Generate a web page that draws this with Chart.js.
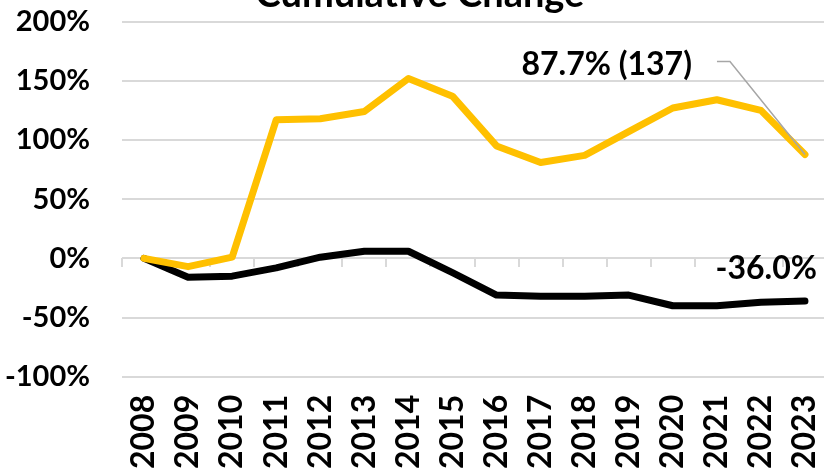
<!DOCTYPE html>
<html><head><meta charset="utf-8">
<script src="https://cdn.jsdelivr.net/npm/chart.js@4.4.1/dist/chart.umd.min.js"></script>
<style>
html,body{margin:0;padding:0;background:#fff;overflow:hidden}
#wrap{position:relative;width:824px;height:469px;overflow:hidden;background:#fff}
#box{position:absolute;left:0;top:-28px;width:840px;height:497px}
</style></head><body>
<div id="wrap"><div id="box"><canvas id="c"></canvas></div></div>
<script>
const chartTitle = 'Cumulative Change';
const years = ['2008','2009','2010','2011','2012','2013','2014','2015','2016','2017','2018','2019','2020','2021','2022','2023'];
const goldValues = [0,-7,1,117,118,124,152,137,95,81,87,107,127,134,125,87.7];
const blackValues = [0,-16,-15,-8,1,6,6,-12,-31,-32,-32,-31,-40,-40,-37,-36];
const yMin = -100, yMax = 200, yStep = 50;
const goldEndLabel = '87.7% (137)';
const blackEndLabel = '-36.0%';

const FONT = 'Lato';
const endLabels = {
  id: 'endLabels',
  afterDatasetsDraw(chart) {
    const ctx = chart.ctx;
    const g = chart.getDatasetMeta(0).data; const gp = g[g.length-1];
    const b = chart.getDatasetMeta(1).data; const bp = b[b.length-1];
    ctx.save();
    ctx.strokeStyle = '#A6A6A6'; ctx.lineWidth = 1.5;
    ctx.beginPath();
    ctx.moveTo(gp.x - 88, gp.y - 93);
    ctx.lineTo(gp.x - 75, gp.y - 93);
    ctx.lineTo(gp.x, gp.y);
    ctx.stroke();
    ctx.fillStyle = '#000';
    ctx.font = 'bold 32px ' + FONT;
    ctx.textBaseline = 'middle';
    ctx.textAlign = 'right';
    ctx.fillText(goldEndLabel, gp.x - 113, gp.y - 90);
    ctx.fillText(blackEndLabel, bp.x + 12, bp.y - 32);
    ctx.restore();
  }
};

new Chart(document.getElementById('c'), {
  type: 'line',
  data: {
    labels: years,
    datasets: [
      {data: goldValues, borderColor: '#FFC000', backgroundColor: '#FFC000', borderWidth: 7, pointRadius: 0, tension: 0, borderJoinStyle: 'round', borderCapStyle: 'round', xAxisID: 'x', yAxisID: 'y'},
      {data: blackValues, borderColor: '#000000', backgroundColor: '#000000', borderWidth: 7, pointRadius: 0, tension: 0, borderJoinStyle: 'round', borderCapStyle: 'round', xAxisID: 'x', yAxisID: 'y'}
    ]
  },
  options: {
    responsive: true, maintainAspectRatio: false, animation: false,
    layout: {padding: {left: 0, right: 0, top: 0, bottom: 0}},
    plugins: {
      legend: {display: false}, tooltip: {enabled: false},
      title: {display: true, text: chartTitle, color: '#000', font: {family: FONT, size: 38, weight: 'bold'}, padding: {top: 0, bottom: 4}}
    },
    scales: {
      x: {
        type: 'category', offset: true, position: 'bottom',
        grid: {display: true, drawOnChartArea: false, drawTicks: true, tickLength: 18, color: 'rgba(0,0,0,0)'},
        border: {display: false},
        ticks: {color: '#000', font: {family: FONT, size: 32, weight: 'bold', lineHeight: 1}, minRotation: 90, maxRotation: 90, padding: 0, autoSkip: false},
        afterFit: s => { s.paddingLeft = 0; s.paddingRight = 13; }
      },
      x0: {
        axis: 'x', type: 'category', labels: years, offset: true, position: {y: 0},
        grid: {drawOnChartArea: false, offset: true, drawTicks: true, tickLength: 9, color: '#D9D9D9', lineWidth: 2},
        border: {display: false},
        ticks: {display: false},
        afterFit: s => { s.paddingLeft = 0; s.paddingRight = 0; }
      },
      y: {
        min: yMin, max: yMax,
        grid: {color: '#D9D9D9', lineWidth: 2, drawTicks: false},
        border: {display: false},
        ticks: {stepSize: yStep, color: '#000', padding: 32, font: {family: FONT, size: 29, weight: 'bold'}, callback: v => v + '%'},
        afterFit: s => { s.width = 122; }
      }
    }
  },
  plugins: [endLabels]
});
</script>
</body></html>
